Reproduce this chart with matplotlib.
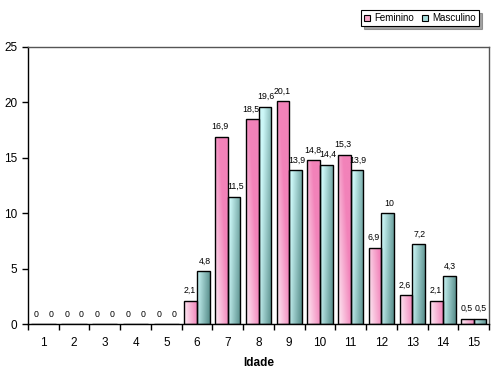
import numpy as np
import matplotlib
matplotlib.use("Agg")
import matplotlib.pyplot as plt
from matplotlib.patches import Rectangle
from matplotlib.legend_handler import HandlerBase

plt.rcParams['font.family'] = ['Liberation Sans', 'DejaVu Sans']

idades = [str(i) for i in range(1, 16)]
feminino = [0, 0, 0, 0, 0, 2.1, 16.9, 18.5, 20.1, 14.8, 15.3, 6.9, 2.6, 2.1, 0.5]
masculino = [0, 0, 0, 0, 0, 4.8, 11.5, 19.6, 13.9, 14.4, 13.9, 10, 7.2, 4.3, 0.5]
yticks = [0, 5, 10, 15, 20, 25]

fig = plt.figure(figsize=(5.0, 3.73), dpi=100)
ax = fig.add_axes([0.056, 0.131, 0.922, 0.743])

x = np.arange(len(idades))
w = 0.41
bf = ax.bar(x - w / 2, feminino, w, facecolor='none', edgecolor='black', linewidth=1.0, zorder=3)
bm = ax.bar(x + w / 2, masculino, w, facecolor='none', edgecolor='black', linewidth=1.0, zorder=3)

pink = np.array([242, 130, 185]) / 255.0
white = np.array([1.0, 1.0, 1.0])
cyan_l = np.array([205, 248, 248]) / 255.0
cyan_d = np.array([80, 135, 132]) / 255.0

def grad(kind, h):
    n = 32
    xs = np.linspace(0, 1, n)[None, :]
    ys = np.linspace(1, 0, n)[:, None] * (h / 25.0)
    if kind == 'f':
        t = np.clip(0.15 + 0.75 * xs + 0.9 * ys, 0, 1)[..., None]
        return white * (1 - t) + pink * t
    else:
        t = np.clip(0.1 + 0.85 * xs - 0.5 * ys, 0, 1)[..., None]
        return cyan_l * (1 - t) + cyan_d * t

for bars, kind in ((bf, 'f'), (bm, 'm')):
    for r in bars:
        h = r.get_height()
        if h <= 0:
            continue
        x0 = r.get_x()
        im = ax.imshow(grad(kind, h), extent=(x0, x0 + r.get_width(), 0, h),
                       aspect='auto', zorder=2, interpolation='bilinear')
        im.set_clip_path(r)

ax.set_xlim(-0.5, len(idades) - 0.5)
ax.set_ylim(0, 25)

def fmt(v):
    return ('%g' % v).replace('.', ',')

for bars, vals, dx in ((bf, feminino, -0.8), (bm, masculino, 0.8)):
    for r, v in zip(bars, vals):
        ax.annotate(fmt(v), (r.get_x() + r.get_width() / 2, v), xytext=(dx, 4),
                    textcoords='offset points', ha='center', va='bottom',
                    fontsize=6.3, zorder=5)

ax.set_xticks(x)
ax.set_xticklabels(idades, fontsize=8.5)
ax.set_xticks(np.arange(-0.5, len(idades), 1), minor=True)
ax.tick_params(axis='x', which='major', length=0, pad=9)
ax.tick_params(axis='x', which='minor', length=4, width=1, direction='out')
ax.set_yticks(yticks)
ax.set_yticklabels([str(t) for t in yticks], fontsize=8.5)
ax.tick_params(axis='y', length=4, width=1, direction='out')

for s in ('left', 'bottom'):
    ax.spines[s].set_color('black')
    ax.spines[s].set_linewidth(1.0)
for s in ('top', 'right'):
    ax.spines[s].set_color('#555555')
    ax.spines[s].set_linewidth(1.0)

ax.set_xlabel('Idade', fontsize=8.5, fontweight='bold', labelpad=6)

class SqHandler(HandlerBase):
    def __init__(self, color):
        super().__init__()
        self.color = color
    def create_artists(self, legend, orig_handle, xdescent, ydescent, width, height, fontsize, trans):
        s = height * 0.9
        r = Rectangle((width - s - 1, (height - s) / 2 - ydescent), s, s,
                      facecolor=self.color, edgecolor='black', linewidth=0.8, transform=trans)
        return [r]

hf = Rectangle((0, 0), 1, 1)
hm = Rectangle((0, 0), 1, 1)
leg = fig.legend([hf, hm], ['Feminino', 'Masculino'], loc='upper right',
                 bbox_to_anchor=(0.968, 0.985), ncol=2, fontsize=7, frameon=True,
                 fancybox=False, shadow=True, edgecolor='black', borderpad=0.3,
                 handlelength=0.8, handletextpad=0.3, columnspacing=0.8,
                 handler_map={hf: SqHandler('#f6a8c8'), hm: SqHandler('#a8dede')})
leg.get_frame().set_linewidth(0.8)

fig.savefig('out.png', dpi=100)
